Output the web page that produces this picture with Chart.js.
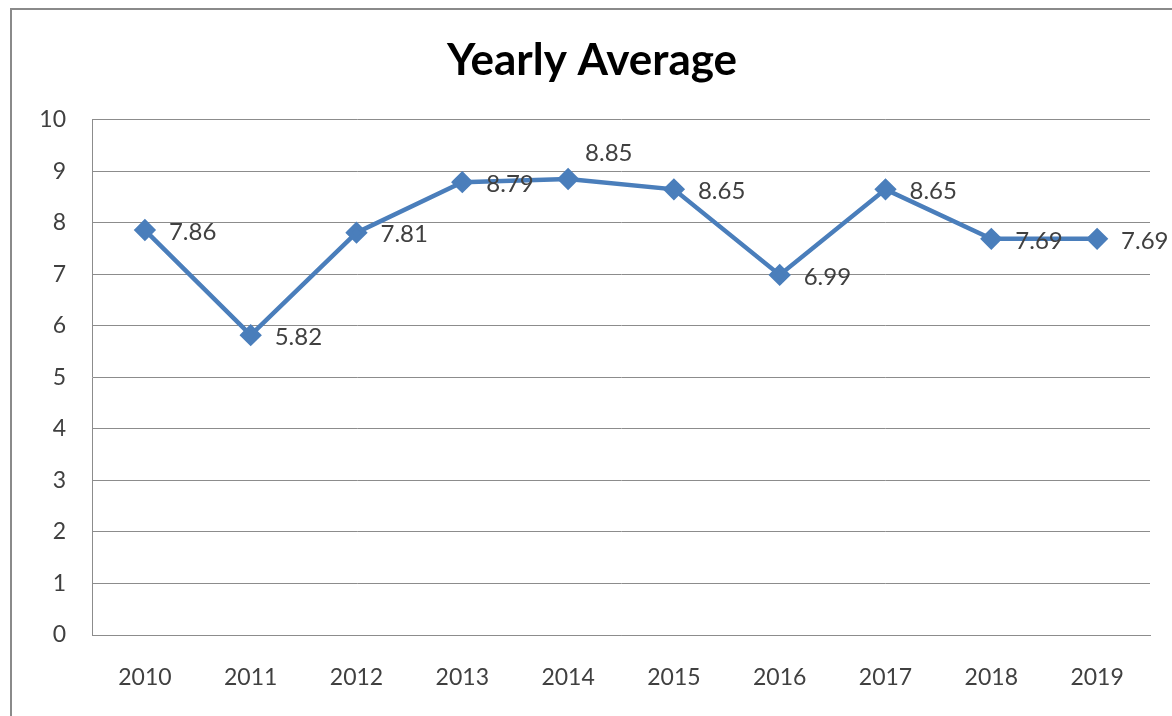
<!DOCTYPE html>
<html>
<head>
<meta charset="utf-8">
<script src="https://cdn.jsdelivr.net/npm/chart.js@4.4.0/dist/chart.umd.min.js"></script>
<style>
  html, body { margin: 0; padding: 0; background: #fff; }
  #frame {
    position: absolute; left: 10px; top: 8px; width: 1170px; height: 720px;
    border-left: 2px solid #8a8a8a; border-top: 2px solid #8a8a8a;
  }
  #wrap { position: absolute; left: 0; top: 0; width: 1172px; height: 716px; }
</style>
</head>
<body>
<div id="frame"></div>
<div id="wrap"><canvas id="chart"></canvas></div>
<script>
const years = ['2010', '2011', '2012', '2013', '2014', '2015', '2016', '2017', '2018', '2019'];
const averages = [7.86, 5.82, 7.81, 8.79, 8.85, 8.65, 6.99, 8.65, 7.69, 7.69];
const yTicks = [0, 1, 2, 3, 4, 5, 6, 7, 8, 9, 10];

const FONT = 'Lato, "Open Sans", sans-serif';
const TEXT = '#404040';
const GRID = '#8c8c8c';
const BLUE = '#4a7ebb';

// draws the value next to each point, like the excel data labels
const valueLabels = {
    id: 'valueLabels',
    afterDatasetsDraw(chart) {
        const ctx = chart.ctx;
        const meta = chart.getDatasetMeta(0);
        ctx.save();
        ctx.font = '24px ' + FONT;
        ctx.fillStyle = TEXT;
        ctx.textBaseline = 'middle';
        ctx.textAlign = 'left';
        meta.data.forEach((pt, i) => {
            const v = chart.data.datasets[0].data[i].toFixed(2);
            if (i === 4) {
                // this one was dragged above the line
                ctx.fillText(v, pt.x + 17, pt.y - 26);
            } else {
                ctx.fillText(v, pt.x + 24, pt.y + 2);
            }
        });
        ctx.restore();
    }
};

new Chart(document.getElementById('chart'), {
    type: 'line',
    data: {
        labels: years,
        datasets: [{
            label: 'Yearly Average',
            data: averages,
            borderColor: BLUE,
            backgroundColor: BLUE,
            borderWidth: 4.5,
            pointStyle: 'rectRot',
            pointRadius: 8,
            pointHoverRadius: 8,
            tension: 0,
            fill: false
        }]
    },
    options: {
        responsive: true,
        maintainAspectRatio: false,
        animation: false,
        layout: { padding: { left: 34, right: 22, top: 8, bottom: 0 } },
        plugins: {
            legend: { display: false },
            tooltip: { enabled: false },
            title: {
                display: true,
                text: 'Yearly Average',
                color: '#000',
                font: { family: FONT, size: 44, weight: 'bold', lineHeight: 1.2 },
                padding: { top: 26, bottom: 33 }
            }
        },
        scales: {
            x: {
                offset: true,
                grid: { display: false, drawTicks: false },
                border: { display: true, color: GRID, width: 1 },
                ticks: { color: TEXT, font: { family: FONT, size: 23 }, padding: 29, maxRotation: 0 },
                afterFit(scale) { scale.height = 81; }
            },
            y: {
                min: 0,
                max: 10,
                afterBuildTicks(scale) { scale.ticks = yTicks.map(v => ({ value: v })); },
                grid: { color: GRID, lineWidth: 1, drawTicks: false },
                border: { display: true, color: GRID, width: 1 },
                ticks: { color: TEXT, font: { family: FONT, size: 23 }, padding: 26 },
                afterFit(scale) { scale.width = 58; }
            }
        }
    },
    plugins: [valueLabels]
});
</script>
</body>
</html>
